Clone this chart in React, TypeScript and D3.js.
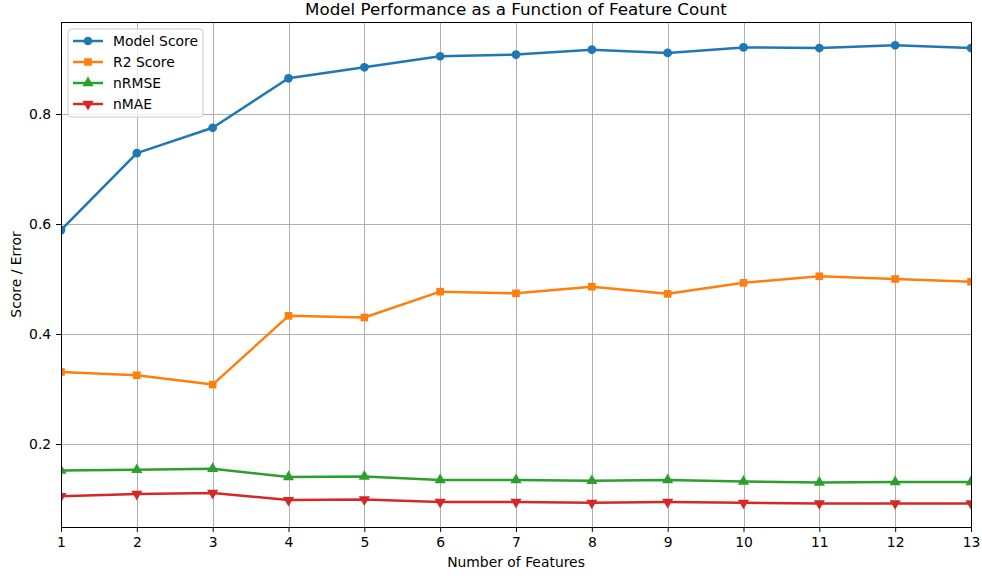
import * as d3 from 'd3';
import { useEffect, useRef } from 'react';

const featureCounts = [1, 2, 3, 4, 5, 6, 7, 8, 9, 10, 11, 12, 13];
const modelScore = [0.589, 0.729, 0.775, 0.865, 0.885, 0.905, 0.908, 0.917, 0.911, 0.921, 0.92, 0.925, 0.92];
const r2Score = [0.331, 0.325, 0.308, 0.433, 0.43, 0.477, 0.474, 0.486, 0.473, 0.493, 0.505, 0.5, 0.495];
const nRMSE = [0.152, 0.153, 0.155, 0.14, 0.141, 0.1345, 0.1345, 0.133, 0.1345, 0.132, 0.13, 0.131, 0.131];
const nMAE = [0.105, 0.109, 0.111, 0.098, 0.099, 0.0945, 0.0945, 0.093, 0.0945, 0.093, 0.092, 0.092, 0.092];
const yTicks = [0.2, 0.4, 0.6, 0.8];

type Series = { name: string; values: number[]; color: string; marker: 'circle' | 'square' | 'triangle' | 'triangleDown' };

const series: Series[] = [
  { name: 'Model Score', values: modelScore, color: '#1f77b4', marker: 'circle' },
  { name: 'R2 Score', values: r2Score, color: '#ff7f0e', marker: 'square' },
  { name: 'nRMSE', values: nRMSE, color: '#2ca02c', marker: 'triangle' },
  { name: 'nMAE', values: nMAE, color: '#d62728', marker: 'triangleDown' },
];

const symbolFor = (m: Series['marker']) => {
  if (m === 'circle') return d3.symbol(d3.symbolCircle, 60)();
  if (m === 'square') return d3.symbol(d3.symbolSquare, 58)();
  return d3.symbol(d3.symbolTriangle, 54)();
};

export default function App() {
  const ref = useRef<SVGSVGElement>(null);

  useEffect(() => {
    const svg = d3.select(ref.current);
    svg.selectAll('*').remove();

    const margin = { top: 22, right: 11, bottom: 49, left: 61 };
    const W = 982;
    const H = 576;
    const width = W - margin.left - margin.right;
    const height = H - margin.top - margin.bottom;
    const font = 'DejaVu Sans, sans-serif';

    const x = d3.scaleLinear().domain([1, 13]).range([0, width]);
    const y = d3.scaleLinear().domain([0.0491, 0.9673]).range([height, 0]);

    const g = svg.append('g').attr('transform', `translate(${margin.left},${margin.top})`);

    svg
      .append('defs')
      .append('clipPath')
      .attr('id', 'plot-clip')
      .append('rect')
      .attr('width', width)
      .attr('height', height);

    //grid
    g.append('g')
      .selectAll('line')
      .data(featureCounts)
      .join('line')
      .attr('x1', (d) => Math.round(x(d)) + 0.5)
      .attr('x2', (d) => Math.round(x(d)) + 0.5)
      .attr('y1', 0)
      .attr('y2', height)
      .attr('stroke', '#b0b0b0')
      .attr('stroke-width', 1);
    g.append('g')
      .selectAll('line')
      .data(yTicks)
      .join('line')
      .attr('x1', 0)
      .attr('x2', width)
      .attr('y1', (d) => Math.round(y(d)) + 0.5)
      .attr('y2', (d) => Math.round(y(d)) + 0.5)
      .attr('stroke', '#b0b0b0')
      .attr('stroke-width', 1);

    //axes
    const xAxis = g
      .append('g')
      .attr('transform', `translate(0,${height})`)
      .call(d3.axisBottom(x).tickValues(featureCounts).tickFormat(d3.format('d')).tickSize(4.9).tickPadding(4.9));
    const yAxis = g
      .append('g')
      .call(d3.axisLeft(y).tickValues(yTicks).tickFormat(d3.format('.1f')).tickSize(4.9).tickPadding(4.9));
    [xAxis, yAxis].forEach((a) => {
      a.select('.domain').remove();
      a.selectAll('.tick line').attr('stroke', '#000').attr('stroke-width', 1);
      a.selectAll('.tick text').attr('fill', '#000').style('font-family', font).style('font-size', '13.9px');
    });

    //lines and markers
    const plot = g.append('g').attr('clip-path', 'url(#plot-clip)');
    series.forEach((s) => {
      const line = d3
        .line<number>()
        .x((_d, i) => x(featureCounts[i]))
        .y((d) => y(d));
      plot
        .append('path')
        .datum(s.values)
        .attr('fill', 'none')
        .attr('stroke', s.color)
        .attr('stroke-width', 2.5)
        .attr('stroke-linejoin', 'round')
        .attr('d', line);
      plot
        .append('g')
        .selectAll('path')
        .data(s.values)
        .join('path')
        .attr('d', symbolFor(s.marker))
        .attr('transform', (d, i) => `translate(${x(featureCounts[i])},${y(d)})${s.marker === 'triangleDown' ? ' rotate(180)' : ''}`)
        .attr('fill', s.color);
    });

    //frame
    g.append('rect')
      .attr('x', 0.5)
      .attr('y', 0.5)
      .attr('width', width)
      .attr('height', height)
      .attr('fill', 'none')
      .attr('stroke', '#000')
      .attr('stroke-width', 1);

    //legend
    const lg = g.append('g').attr('transform', 'translate(7,7)');
    lg.append('rect')
      .attr('width', 135)
      .attr('height', 88)
      .attr('rx', 3)
      .attr('fill', 'rgba(255,255,255,0.8)')
      .attr('stroke', '#ccc');
    series.forEach((s, i) => {
      const row = lg.append('g').attr('transform', `translate(0,${12 + i * 21})`);
      row.append('line').attr('x1', 5).attr('x2', 35).attr('stroke', s.color).attr('stroke-width', 2.5);
      row
        .append('path')
        .attr('d', symbolFor(s.marker))
        .attr('transform', `translate(20,0)${s.marker === 'triangleDown' ? ' rotate(180)' : ''}`)
        .attr('fill', s.color);
      row
        .append('text')
        .attr('x', 45)
        .attr('dy', '0.35em')
        .style('font-family', font)
        .style('font-size', '13.9px')
        .text(s.name);
    });

    //titles
    svg
      .append('text')
      .attr('x', margin.left + width / 2)
      .attr('y', 15)
      .attr('text-anchor', 'middle')
      .style('font-family', font)
      .style('font-size', '16.7px')
      .text('Model Performance as a Function of Feature Count');
    svg
      .append('text')
      .attr('x', margin.left + width / 2)
      .attr('y', 567)
      .attr('text-anchor', 'middle')
      .style('font-family', font)
      .style('font-size', '13.9px')
      .text('Number of Features');
    svg
      .append('text')
      .attr('transform', `translate(21,${margin.top + height / 2}) rotate(-90)`)
      .attr('text-anchor', 'middle')
      .style('font-family', font)
      .style('font-size', '13.9px')
      .text('Score / Error');
  }, []);

  return <svg ref={ref} width={982} height={576} style={{ position: 'absolute', left: 0, top: 0 }} />;
}
